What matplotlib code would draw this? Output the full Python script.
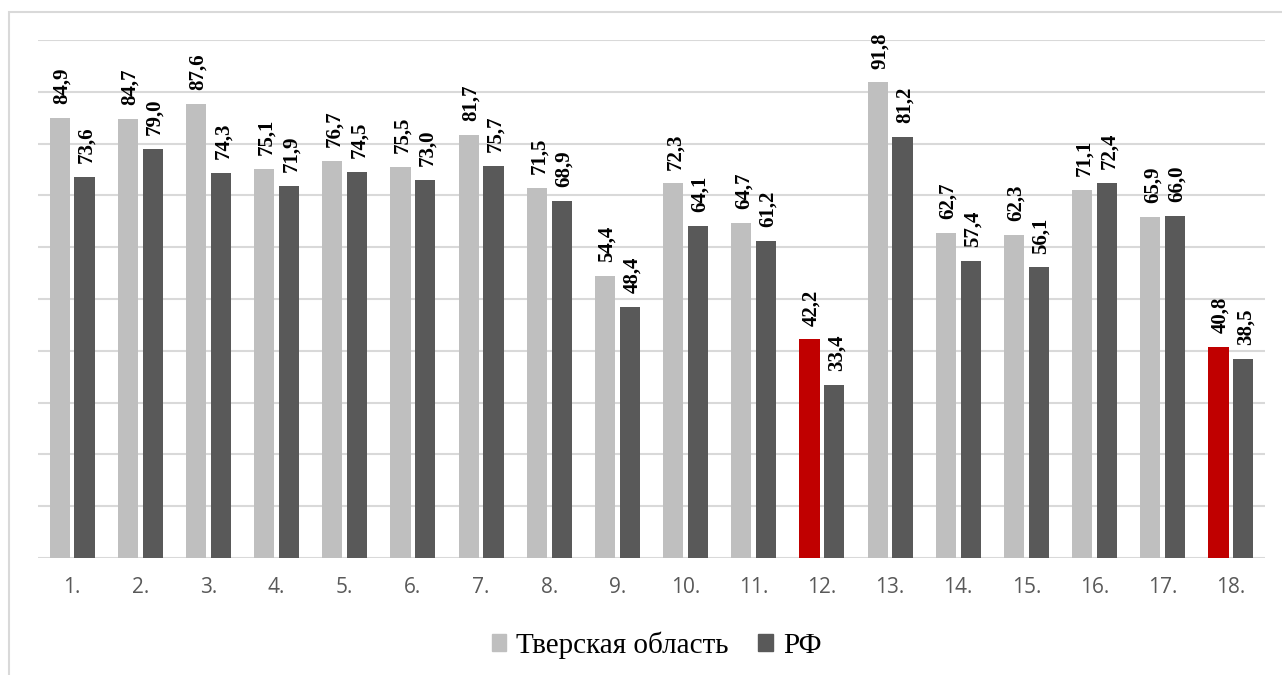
import numpy as np
import matplotlib.pyplot as plt
from matplotlib.patches import Rectangle, Patch

categories = [f"{i}." for i in range(1, 19)]
tver = [84.9, 84.7, 87.6, 75.1, 76.7, 75.5, 81.7, 71.5, 54.4,
        72.3, 64.7, 42.2, 91.8, 62.7, 62.3, 71.1, 65.9, 40.8]
rf = [73.6, 79.0, 74.3, 71.9, 74.5, 73.0, 75.7, 68.9, 48.4,
      64.1, 61.2, 33.4, 81.2, 57.4, 56.1, 72.4, 66.0, 38.5]
highlight = {"12.", "18."}

c_light = "#bfbfbf"
c_dark = "#595959"
c_red = "#c00000"

fig = plt.figure(figsize=(12.82, 6.75), dpi=100)
# chart frame
fig.patches.append(Rectangle((9 / 1282, -0.1), 1.2, 1 - 12 / 675 + 0.1,
                             transform=fig.transFigure, fill=False,
                             edgecolor="#d9d9d9", linewidth=1.5))

ax = fig.add_axes([38 / 1282, 1 - 558 / 675, (1265 - 38) / 1282, (558 - 40) / 675])

x = np.arange(len(categories))
w = 0.295
gap = 0.035
cols = [c_red if c in highlight else c_light for c in categories]
b1 = ax.bar(x - w / 2 - gap, tver, w, color=cols, zorder=2)
b2 = ax.bar(x + w / 2 + gap, rf, w, color=c_dark, zorder=2)

for bars, vals in ((b1, tver), (b2, rf)):
    for b, v in zip(bars, vals):
        ax.annotate(f"{v:.1f}".replace(".", ","),
                    (b.get_x() + b.get_width() / 2 + 0.03, v),
                    xytext=(0, 10), textcoords="offset points",
                    rotation=90, ha="center", va="bottom",
                    fontsize=15, fontweight="bold", family="Liberation Serif")

ax.set_xlim(-0.5, len(categories) - 0.5)
ax.set_ylim(0, 100)
ax.set_yticks(np.arange(0, 101, 10))
ax.set_yticklabels([])
ax.tick_params(axis="y", length=0)
ax.grid(axis="y", color="#d9d9d9", linewidth=1.5, zorder=0)
ax.set_axisbelow(True)
for s in ax.spines.values():
    s.set_visible(False)

ax.set_xticks(x)
ax.set_xticklabels(categories, fontsize=15, color=c_dark, family="Open Sans")
ax.tick_params(axis="x", length=0, pad=14)

handles = [Patch(color=c_light, label="Тверская область"),
           Patch(color=c_dark, label="РФ")]
fig.legend(handles=handles, loc="center", bbox_to_anchor=(0.512, 1 - 645 / 675),
           ncol=2, frameon=False, prop={"family": "Liberation Serif", "size": 21},
           handlelength=0.5, handleheight=0.5, handletextpad=0.35, columnspacing=1.0)

fig.savefig("out.png", dpi=100)
